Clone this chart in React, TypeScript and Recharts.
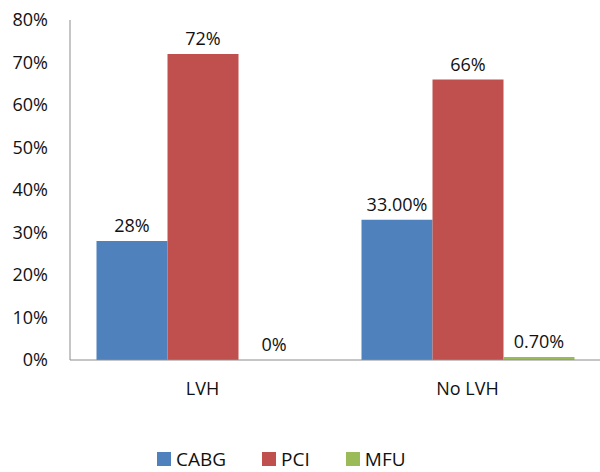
import { BarChart, Bar, XAxis, YAxis, Legend, LabelList } from "recharts";

const categories = ["LVH", "No LVH"];
const cabg = [28, 33];
const pci = [72, 66];
const mfu = [0, 0.7];
const cabgLabels = ["28%", "33.00%"];
const pciLabels = ["72%", "66%"];
const mfuLabels = ["0%", "0.70%"];
const yTicks = [0, 10, 20, 30, 40, 50, 60, 70, 80];

const series = [
  { key: "cabg", name: "CABG", color: "#4F81BD" },
  { key: "pci", name: "PCI", color: "#C0504D" },
  { key: "mfu", name: "MFU", color: "#9BBB59" },
];

const data = categories.map((name, i) => ({
  name,
  cabg: cabg[i],
  pci: pci[i],
  mfu: mfu[i],
  cabgLabel: cabgLabels[i],
  pciLabel: pciLabels[i],
  mfuLabel: mfuLabels[i],
}));

const font = "'Open Sans', sans-serif";
const textColor = "#111";

function LegendContent() {
  return (
    <div
      style={{
        height: 40,
        boxSizing: "border-box",
        paddingTop: 13,
        paddingLeft: 157,
        display: "flex",
        alignItems: "center",
        gap: 36,
        fontFamily: font,
        fontSize: 19,
        lineHeight: "26px",
        color: textColor,
      }}
    >
      {series.map((s) => (
        <div key={s.key} style={{ display: "flex", alignItems: "center", gap: 5 }}>
          <span style={{ width: 14, height: 14, background: s.color, display: "inline-block" }} />
          <span>{s.name}</span>
        </div>
      ))}
    </div>
  );
}

// keep zero-height bars in the label pass without drawing anything visible
const keepZero = (v: number) => (v === 0 ? 0.01 : 0);

export default function App() {
  return (
    <div style={{ position: "absolute", left: 0, top: 0, background: "#fff" }}>
      <BarChart
        width={600}
        height={472}
        data={data}
        margin={{ top: 20, right: 0, left: 0, bottom: 0 }}
        barCategoryGap="10%"
        barGap={0}
      >
        <XAxis
          dataKey="name"
          height={72}
          stroke="#8c8c8c"
          tickLine={false}
          tickSize={0}
          tickMargin={22}
          tick={{ fontSize: 18, fontFamily: font, fill: textColor }}
        />
        <YAxis
          width={70}
          domain={[0, 80]}
          ticks={yTicks}
          interval={0}
          stroke="#8c8c8c"
          tickLine={false}
          tickSize={0}
          tickMargin={22}
          tickFormatter={(v: number) => `${v}%`}
          tick={{ fontSize: 18, fontFamily: font, fill: textColor }}
        />
        <Legend
          verticalAlign="bottom"
          content={LegendContent}
          wrapperStyle={{ left: 0, width: 600, height: 40 }}
        />
        {series.map((s) => (
          <Bar
            key={s.key}
            dataKey={s.key}
            name={s.name}
            fill={s.color}
            minPointSize={keepZero}
            isAnimationActive={false}
          >
            <LabelList
              dataKey={`${s.key}Label`}
              position="top"
              offset={9}
              style={{ fontSize: 18, fontFamily: font, fill: textColor }}
            />
          </Bar>
        ))}
      </BarChart>
    </div>
  );
}
